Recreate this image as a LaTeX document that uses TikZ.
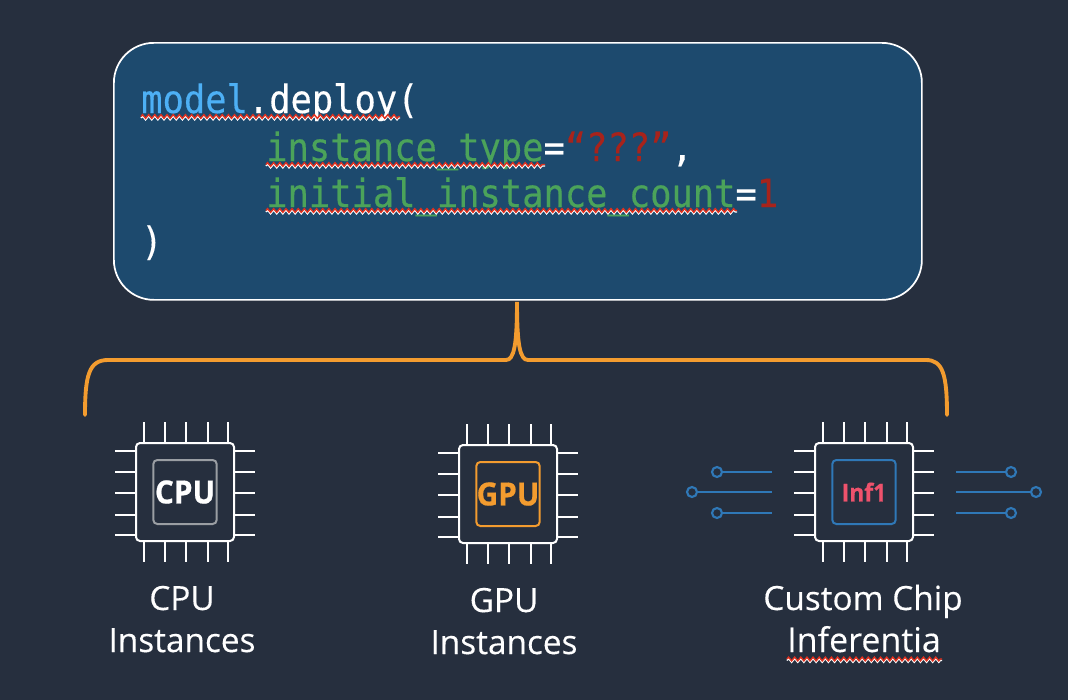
\documentclass[tikz,border=0pt]{standalone}
\usepackage{fontspec}
\setmainfont{Open Sans}[FakeBold=0.25]
\newfontfamily\chipfont{Open Sans}[FakeStretch=0.93,FakeBold=0.5,BoldFont={Open Sans Bold}]
\newfontfamily\codefont{DejaVu Sans Mono}[FakeStretch=0.91,FakeBold=0.35]
\usetikzlibrary{decorations.pathmorphing}
\definecolor{bgc}{HTML}{262F3E}
\definecolor{boxc}{HTML}{1D4A6E}
\definecolor{orangec}{HTML}{F39C2F}
\definecolor{modelc}{HTML}{4DB0F5}
\definecolor{greenc}{HTML}{4BA35A}
\definecolor{redc}{HTML}{A8231B}
\definecolor{wavec}{HTML}{E0301E}
\definecolor{bluec}{HTML}{2F78B7}
\definecolor{pinkc}{HTML}{EE526C}
\definecolor{grayc}{HTML}{9A9EA3}
\tikzset{
  x=0.75pt,y=-0.75pt,
  codebox/.style={draw=white,line width=1.3pt,fill=boxc,rounded corners=30pt,minimum width=606pt,minimum height=192.75pt,inner sep=0pt,anchor=north west},
  codeline/.style={anchor=base west,inner sep=0pt,text=white,font=\codefont\fontsize{29.2}{30}\selectfont},
  caption/.style={anchor=base,inner sep=0pt,text=white,font=\fontsize{25}{30}\selectfont},
  brace/.style={draw=orangec,line width=2.9pt,line cap=round},
  pin/.style={draw=white,line width=1.3pt},
  chipbody/.style={draw=white,line width=1.5pt,fill=bgc,rounded corners=3pt,minimum width=73.5pt,minimum height=73.5pt,inner sep=0pt},
  chipcore/.style={line width=1.5pt,rounded corners=3pt,minimum width=47.5pt,minimum height=48pt,inner sep=0pt},
  trace/.style={draw=bluec,line width=1.6pt},
  pad/.style={circle,draw=bluec,line width=1.6pt,minimum size=7.5pt,inner sep=0pt},
  wavy/.style={decorate,decoration={zigzag,segment length=4.6pt,amplitude=1.4pt},line width=1.05pt},
}
\newcommand{\chip}[6]{% name, cx, cy, core colour, text colour, label
  \foreach \d in {-41,-20,1,23,43}{
    \draw[pin] (#2+\d,#3-70) -- (#2+\d,#3+70);
    \draw[pin] (#2-70,#3+\d) -- (#2+70,#3+\d);
  }
  \node[chipbody] (#1) at (#2,#3) {};
  \node[chipcore,draw=#4,text=#5,font=#6] (#1core) at (#2,#3) {\chiplabel};
}
\newcommand{\wave}[3]{% x1, x2, y
  \draw[wavy,draw=white] (#1,#3+1.5) -- (#2,#3+1.5);
  \draw[wavy,draw=wavec] (#1,#3) -- (#2,#3);
}
\begin{document}
\begin{tikzpicture}
\useasboundingbox (0,0) rectangle (1068,700);
\fill[bgc] (0,0) rectangle (1068,700);
% code box
\node[codebox] (code) at (113,42) {};
\node[codeline] (l1) at (141,113) {\textcolor{modelc}{model}.deploy(};
\node[codeline] (l2) at (266,161) {\textcolor{greenc}{instance\_type}=\textcolor{redc}{“???”},};
\node[codeline] (l3) at (266,207) {\textcolor{greenc}{initial\_instance\_count}=\textcolor{redc}{1}};
\node[codeline] (l4) at (141,255) {)};
\wave{141}{400}{116.5}
\wave{266}{545}{164.5}
\wave{266}{737}{210.5}
% bracket
\coordinate (tip) at (517,302);
\coordinate (bl) at (85,415);
\coordinate (br) at (947,415);
\draw[brace] (bl) .. controls (85,375) and (89,360) .. (108,360) -- (506,360)
  .. controls (514,360) and (517,345) .. (tip)
  .. controls (517,345) and (520,360) .. (528,360) -- (926,360)
  .. controls (943,360) and (947,375) .. (br);
% chips
\def\chiplabel{CPU}
\chip{cpu}{185}{492}{grayc}{white}{\chipfont\bfseries\fontsize{24}{26}\selectfont}
\def\chiplabel{GPU}
\chip{gpu}{508}{494}{orangec}{orangec}{\chipfont\bfseries\fontsize{24}{26}\selectfont}
\def\chiplabel{Inf1}
\chip{inf}{864}{492}{bluec}{pinkc}{\chipfont\bfseries\fontsize{18.5}{20}\selectfont}
% traces
\node[pad] (a1) at (717,472) {};
\node[pad] (a2) at (692,492) {};
\node[pad] (a3) at (717,513) {};
\coordinate (a1e) at (772,472);
\coordinate (a2e) at (772,492);
\coordinate (a3e) at (772,513);
\draw[trace] (a1) -- (a1e);
\draw[trace] (a2) -- (a2e);
\draw[trace] (a3) -- (a3e);
\node[pad] (b1) at (1011,472) {};
\node[pad] (b2) at (1036,492) {};
\node[pad] (b3) at (1011,513) {};
\coordinate (b1e) at (956,472);
\coordinate (b2e) at (956,492);
\coordinate (b3e) at (956,513);
\draw[trace] (b1e) -- (b1);
\draw[trace] (b2e) -- (b2);
\draw[trace] (b3e) -- (b3);
% captions
\node[caption] (c1) at (182,610) {CPU};
\node[caption] (c2) at (182,652) {Instances};
\node[caption] (g1) at (504,612) {GPU};
\node[caption] (g2) at (504,654) {Instances};
\node[caption] (i1) at (863,610) {Custom Chip};
\node[caption,font=\fontsize{25.5}{30}\selectfont] (i2) at (864,652) {Inferentia};
\wave{787}{942}{659}
\end{tikzpicture}
\end{document}
